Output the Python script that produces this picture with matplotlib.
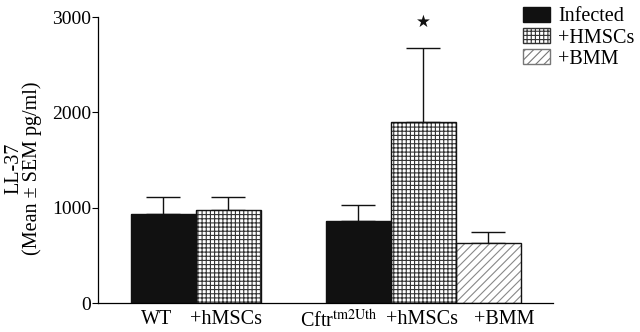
import numpy as np
import matplotlib
matplotlib.use("Agg")
import matplotlib.pyplot as plt
from matplotlib.patches import Patch

plt.rcParams['font.family'] = ['Liberation Serif', 'DejaVu Serif']
plt.rcParams['mathtext.fontset'] = 'stix'
plt.rcParams['hatch.linewidth'] = 0.8

# data
labels = ["WT", "+hMSCs", r"Cftr$^{\mathrm{tm2Uth}}$", "+hMSCs", "+BMM"]
groups = ["inf", "hmsc", "inf", "hmsc", "bmm"]
means = [935, 975, 860, 1900, 630]
sem = [175, 140, 170, 775, 115]
xpos = [1, 2, 4, 5, 6]
# the labels in the original sit a little off the bar centres
label_shift = [-0.1, -0.03, -0.29, -0.02, 0.25]

fig = plt.figure(figsize=(6.4, 3.32), dpi=100)
ax = fig.add_axes([98/640, 29/332, 455/640, 286/332])

style = {
    "inf": dict(color="#111111", hatch=None, hc="#111111"),
    "hmsc": dict(color="white", hatch="++++", hc="#333333"),
    "bmm": dict(color="white", hatch="////", hc="#888888"),
}

for x, m, s, g in zip(xpos, means, sem, groups):
    st = style[g]
    # hatch layer then outline on top
    ax.bar(x, m, width=1.0, color=st["color"], hatch=st["hatch"],
           edgecolor=st["hc"], linewidth=0, zorder=2)
    ax.bar(x, m, width=1.0, fill=False, edgecolor="#111111", linewidth=1.0, zorder=3)
    ax.errorbar(x, m, yerr=[[0], [s]], fmt="none", ecolor="#111111",
                elinewidth=1.0, capsize=12, capthick=1.0, zorder=1)

ax.text(5, 2950, "\u2605", ha="center", va="center", fontsize=12,
        family="DejaVu Sans", color="#111111")

ax.set_xlim(0, 7)
ax.set_ylim(0, 3000)
ax.set_yticks([0, 1000, 2000, 3000])
ax.set_xticks([p + d for p, d in zip(xpos, label_shift)])
ax.set_xticklabels(labels, fontsize=14.5)
ax.tick_params(axis="x", length=0, pad=5)
ax.tick_params(axis="y", labelsize=14, length=4, width=0.8, direction="out", pad=1)
for sp in ["top", "right"]:
    ax.spines[sp].set_visible(False)
for sp in ["left", "bottom"]:
    ax.spines[sp].set_linewidth(0.9)
ax.set_ylabel("LL-37\n(Mean \u00b1 SEM pg/ml)", fontsize=14.5, linespacing=0.95)
ax.yaxis.set_label_coords(-0.123, 0.47)

handles = [
    Patch(facecolor="#111111", edgecolor="#111111", label="Infected"),
    Patch(facecolor="white", edgecolor="#333333", hatch="++++", label="+HMSCs"),
    Patch(facecolor="white", edgecolor="#777777", hatch="////", label="+BMM"),
]
fig.legend(handles=handles, loc="upper left", bbox_to_anchor=(513/640, 1.01),
           frameon=False, fontsize=14.5, handlelength=1.35, handleheight=0.78,
           handletextpad=0.4, labelspacing=0.08, borderaxespad=0.1)

fig.savefig("out.png", dpi=100)
